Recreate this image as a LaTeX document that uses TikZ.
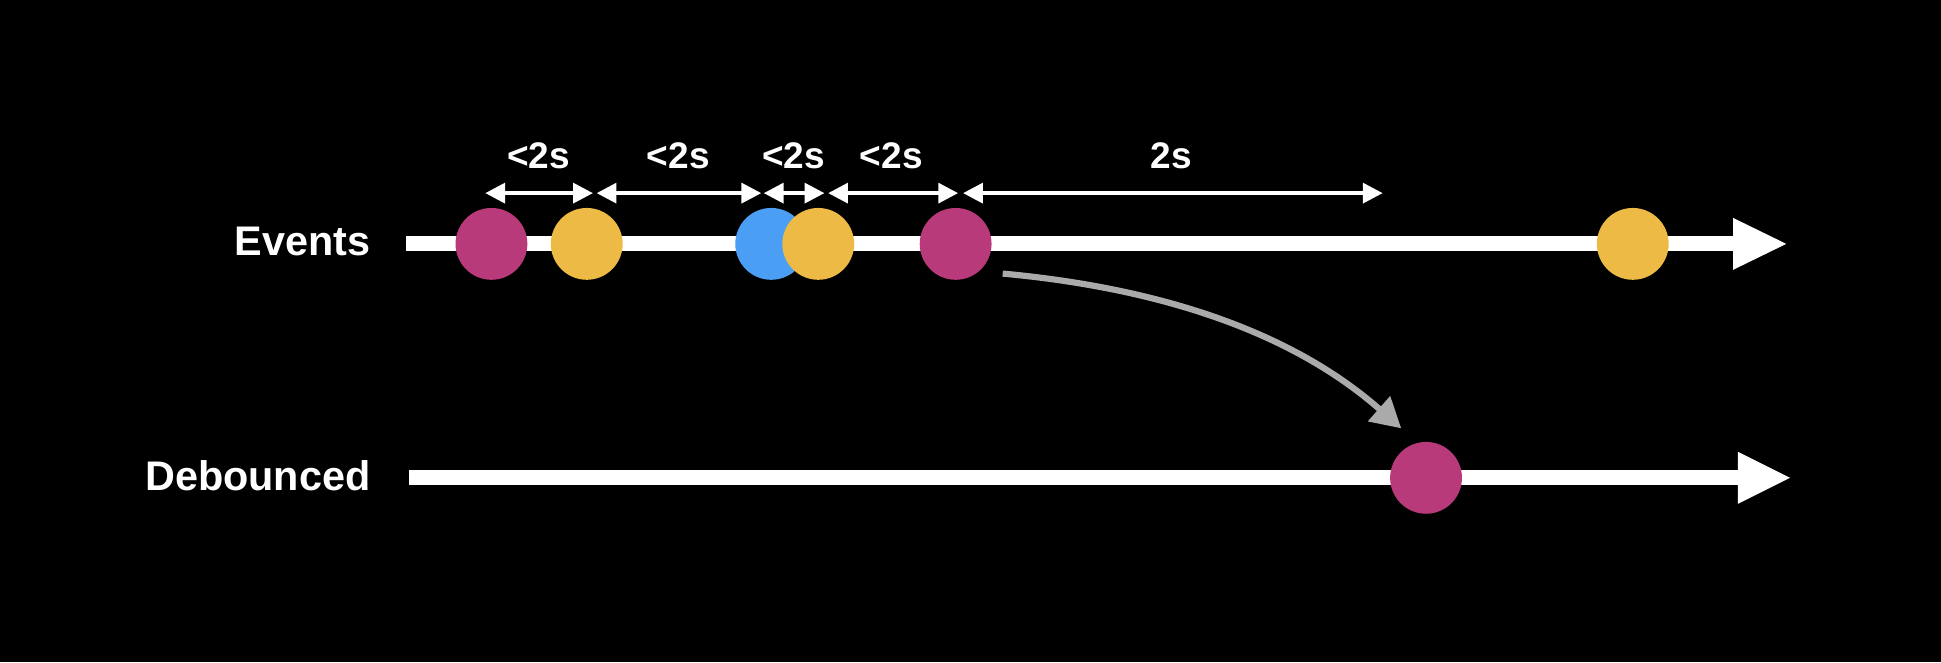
\documentclass[tikz,border=0pt]{standalone}
\usepackage{fontspec}
\setmainfont{Liberation Sans}
\usetikzlibrary{arrows.meta}
\definecolor{mag}{HTML}{B93A7A}
\definecolor{yel}{HTML}{EDBB45}
\definecolor{blu}{HTML}{4A9FF5}
\definecolor{gry}{HTML}{AAAAAA}
\tikzset{
  dot/.style={circle,inner sep=0pt,minimum size=0.58cm},
  lbl/.style={text=white,font=\bfseries\fontsize{9.5}{11}\selectfont,anchor=east,inner sep=0pt},
  ilbl/.style={text=white,font=\bfseries\fontsize{8.5}{10}\selectfont,inner sep=0pt},
  axis/.style={white,line width=0.12cm},
  head/.style={fill=white},
  span/.style={white,line width=0.03cm,{Triangle[length=0.16cm,width=0.16cm]}-{Triangle[length=0.16cm,width=0.16cm]}},
}
\begin{document}
\begin{tikzpicture}[x=0.01cm,y=-0.01cm]
\fill[black] (0,0) rectangle (1568,535);
\useasboundingbox (0,0) rectangle (1568,535);
% Events axis
\node[lbl] (ev) at (300,195) {Events};
\coordinate (e0) at (328,197);
\coordinate (e1) at (1402,197);
\draw[axis] (e0) -- (e1);
\fill[head] (1400,176) -- (1443,197) -- (1400,218) -- cycle;
% Debounced axis
\node[lbl] (db) at (300,384) {Debounced};
\coordinate (d0) at (330,386);
\coordinate (d1) at (1406,386);
\draw[axis] (d0) -- (d1);
\fill[head] (1404,365) -- (1446,386) -- (1404,407) -- cycle;
% dots
\node[dot,fill=mag] (c1) at (397,197) {};
\node[dot,fill=yel] (c2) at (474,197) {};
\node[dot,fill=blu] (c3) at (623,197) {};
\node[dot,fill=yel] (c4) at (661,197) {};
\node[dot,fill=mag] (c5) at (772,197) {};
\node[dot,fill=yel] (c6) at (1319,197) {};
\node[dot,fill=mag] (c7) at (1152,386) {};
% spans
\coordinate (s1) at (392,156); \coordinate (s2) at (479,156);
\coordinate (s3) at (482,156); \coordinate (s4) at (615,156);
\coordinate (s5) at (617,156); \coordinate (s6) at (666,156);
\coordinate (s7) at (669,156); \coordinate (s8) at (774,156);
\coordinate (s9) at (778,156); \coordinate (s10) at (1117,156);
\draw[span] (s1) -- (s2);
\draw[span] (s3) -- (s4);
\draw[span] (s5) -- (s6);
\draw[span] (s7) -- (s8);
\draw[span] (s9) -- (s10);
\node[ilbl] (l1) at (435,126) {<2s};
\node[ilbl] (l2) at (548,126) {<2s};
\node[ilbl] (l3) at (641,126) {<2s};
\node[ilbl] (l4) at (720,126) {<2s};
\node[ilbl] (l5) at (946,126) {2s};
% curved arrow
\coordinate (a0) at (810,221);
\coordinate (a1) at (1132,346);
\draw[gry,line width=0.05cm,-{Triangle[length=0.24cm,width=0.26cm]}] (a0) .. controls (930,232) and (1040,265) .. (a1);
\end{tikzpicture}
\end{document}
